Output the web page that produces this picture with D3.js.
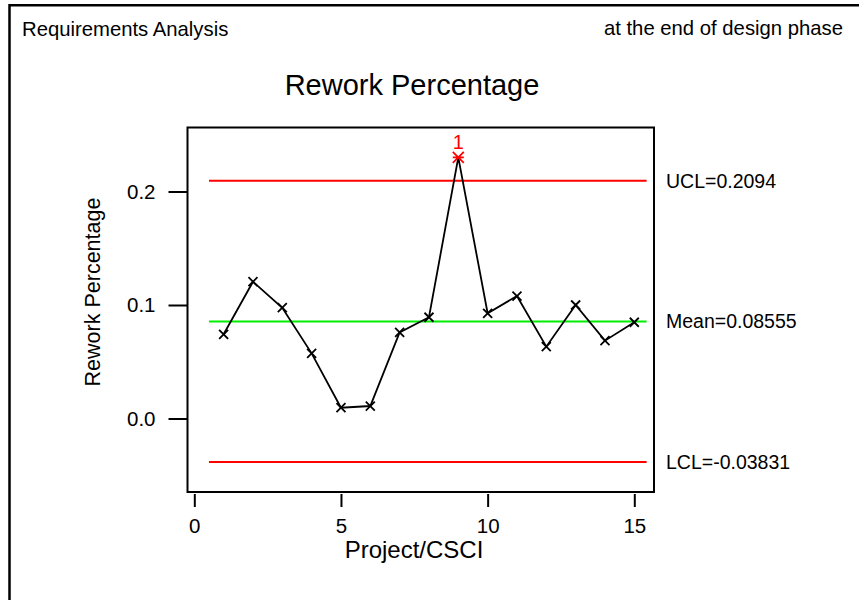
<!DOCTYPE html>
<html>
<head>
<meta charset="utf-8">
<script src="https://cdn.jsdelivr.net/npm/d3@7"></script>
<style>
  html, body { margin: 0; padding: 0; background: #fff; }
  svg { display: block; font-family: "Liberation Sans", Arial, sans-serif; }
</style>
</head>
<body>
<svg id="chart" width="859" height="600"></svg>
<script>
// Rework percentage per project / CSCI (individuals control chart)
const projects = [1, 2, 3, 4, 5, 6, 7, 8, 9, 10, 11, 12, 13, 14, 15];
const rework = [0.0742, 0.1205, 0.0976, 0.0574, 0.0095, 0.0110, 0.0759, 0.0892,
                0.2301, 0.0927, 0.1079, 0.0633, 0.1000, 0.0686, 0.0848];
const controlNames = ["UCL", "Mean", "LCL"];
const controlValues = [0.2094, 0.08555, -0.03831];
const controlLabels = ["UCL=0.2094", "Mean=0.08555", "LCL=-0.03831"];
const controlColors = ["#ff0000", "#00ee00", "#ff0000"];
const xTicks = [0, 5, 10, 15];
const yTicks = [0.0, 0.1, 0.2];
const flagged = [{ project: 9, label: "1" }];

const svg = d3.select("#chart");

// outer page frame (open to the right and bottom)
svg.append("path")
  .attr("d", "M9.5,600 L9.5,5.2 L859,5.2")
  .attr("fill", "none").attr("stroke", "#000").attr("stroke-width", 2.5);

const frame = { left: 187.5, right: 654, top: 127.5, bottom: 492 };

const x = d3.scaleLinear().domain([0, 15]).range([194.3, 634.3]);
const y = d3.scaleLinear().domain([0, 0.2]).range([418.5, 191.5]);

// headings
svg.append("text").attr("x", 22).attr("y", 36)
  .attr("font-size", 20.3).text("Requirements Analysis");
svg.append("text").attr("x", 843).attr("y", 35).attr("text-anchor", "end")
  .attr("font-size", 20.3).text("at the end of design phase");
svg.append("text").attr("x", 412).attr("y", 95).attr("text-anchor", "middle")
  .attr("font-size", 29).text("Rework Percentage");

// control limit lines
const limitExtent = [0.5, 15.42];
controlValues.forEach((v, i) => {
  svg.append("line")
    .attr("x1", x(limitExtent[0])).attr("x2", x(limitExtent[1]))
    .attr("y1", y(v)).attr("y2", y(v))
    .attr("stroke", controlColors[i]).attr("stroke-width", 2);
  svg.append("text")
    .attr("x", 666).attr("y", y(v)).attr("dy", "0.36em")
    .attr("font-size", 19.5).text(controlLabels[i]);
});

// data line
const line = d3.line().x((d, i) => x(projects[i])).y(d => y(d));
svg.append("path").datum(rework)
  .attr("d", line).attr("fill", "none")
  .attr("stroke", "#000").attr("stroke-width", 1.8);

// point markers
const flaggedSet = new Set(flagged.map(f => f.project));
const s = 4.5;
projects.forEach((p, i) => {
  const cx = x(p), cy = y(rework[i]);
  const bad = flaggedSet.has(p);
  const r = bad ? 5.5 : s;
  const col = bad ? "#ff0000" : "#000";
  let d = `M${cx - r},${cy - r}L${cx + r},${cy + r}M${cx - r},${cy + r}L${cx + r},${cy - r}`;
  if (bad) d += `M${cx - r},${cy}L${cx + r},${cy}`;
  svg.append("path").attr("d", d).attr("stroke", col).attr("stroke-width", 1.8);
});
flagged.forEach(f => {
  const i = projects.indexOf(f.project);
  svg.append("text")
    .attr("x", x(f.project)).attr("y", y(rework[i]) - 8)
    .attr("text-anchor", "middle").attr("font-size", 20)
    .attr("fill", "#ff0000").text(f.label);
});

// plot frame
svg.append("rect")
  .attr("x", frame.left).attr("y", frame.top)
  .attr("width", frame.right - frame.left).attr("height", frame.bottom - frame.top)
  .attr("fill", "none").attr("stroke", "#000").attr("stroke-width", 2);

// y axis
const yAxis = svg.append("g")
  .attr("transform", `translate(${frame.left},0)`)
  .call(d3.axisLeft(y).tickValues(yTicks).tickFormat(d3.format(".1f"))
    .tickSize(19).tickPadding(13));
yAxis.select(".domain").remove();
yAxis.selectAll("line").attr("stroke-width", 2);
yAxis.selectAll("text").attr("font-size", 20.5).attr("fill", "#000")
  .style("font-family", "'Liberation Sans', Arial, sans-serif");

// x axis
const xAxis = svg.append("g")
  .attr("transform", `translate(0,${frame.bottom + 2})`)
  .call(d3.axisBottom(x).tickValues(xTicks).tickFormat(d3.format("d"))
    .tickSize(13).tickPadding(11));
xAxis.select(".domain").remove();
xAxis.selectAll("line").attr("stroke-width", 2);
xAxis.selectAll("text").attr("font-size", 20.5).attr("fill", "#000")
  .style("font-family", "'Liberation Sans', Arial, sans-serif");

// axis titles
svg.append("text").attr("x", 414).attr("y", 558).attr("text-anchor", "middle")
  .attr("font-size", 24).text("Project/CSCI");
svg.append("text")
  .attr("transform", "translate(100,292) rotate(-90)")
  .attr("text-anchor", "middle").attr("font-size", 21.5)
  .text("Rework Percentage");
</script>
</body>
</html>
